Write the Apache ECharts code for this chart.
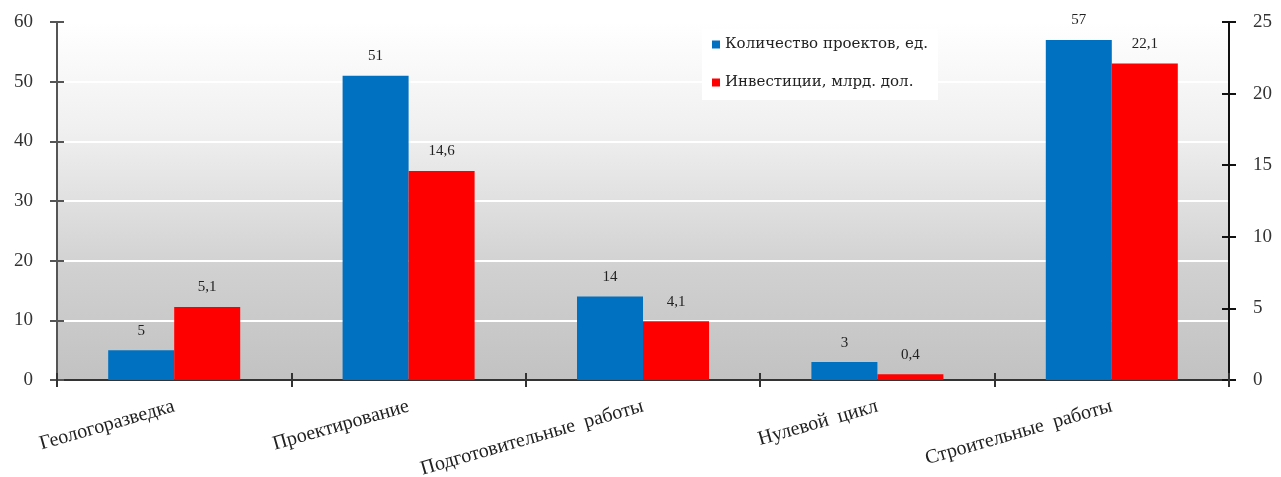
<!DOCTYPE html>
<html>
<head>
<meta charset="utf-8">
<script src="https://cdn.jsdelivr.net/npm/echarts@6/dist/echarts.min.js"></script>
<style>
  html, body { margin: 0; padding: 0; background: #ffffff; }
  #chart { width: 1281px; height: 477px; }
</style>
</head>
<body>
<div id="chart"></div>
<script>
// Project stages
const categories = ['Геологоразведка', 'Проектирование', 'Подготовительные  работы', 'Нулевой  цикл', 'Строительные  работы'];
// Number of projects, units (left axis)
const projects = [5, 51, 14, 3, 57];
// Investment, bln. dollars (right axis)
const investments = [5.1, 14.6, 4.1, 0.4, 22.1];
const seriesNames = ['Количество проектов, ед.', 'Инвестиции, млрд. дол.'];
const leftTicks = { min: 0, max: 60, interval: 10 };
const rightTicks = { min: 0, max: 25, interval: 5 };

const serif = '"Liberation Serif", "Times New Roman", serif';
const wideSerif = '"DejaVu Serif", "Liberation Serif", serif';
const chart = echarts.init(document.getElementById('chart'));

const commaFmt = p => String(p.value).replace('.', ',');

chart.setOption({
  animation: false,
  textStyle: { fontFamily: serif },
  grid: {
    left: 57, right: 52, top: 22, bottom: 97,
    containLabel: false,
    outerBoundsMode: 'none',
    show: true,
    borderWidth: 0,
    backgroundColor: new echarts.graphic.LinearGradient(0, 0, 0, 1, [
      { offset: 0, color: '#ffffff' },
      { offset: 0.3, color: '#f0f0f0' },
      { offset: 0.7, color: '#d0d0d0' },
      { offset: 1, color: '#c2c2c2' }
    ])
  },
  legend: {
    orient: 'vertical',
    left: 702, top: 29,
    padding: [8, 10, 10, 10],
    backgroundColor: '#ffffff',
    itemWidth: 8, itemHeight: 8,
    itemGap: 23,
    icon: 'rect',
    textStyle: { fontFamily: wideSerif, fontSize: 15, color: '#222' },
    data: seriesNames
  },
  xAxis: [
    {
      type: 'category',
      data: categories,
      axisLine: { lineStyle: { color: '#333', width: 2 } },
      axisTick: { show: true, length: 7, lineStyle: { color: '#333', width: 2 } },
      axisLabel: { rotate: 16, margin: 26, fontFamily: serif, fontSize: 20, color: '#222', interval: 0 }
    },
    {
      type: 'category',
      data: categories,
      position: 'bottom',
      axisLine: { show: false },
      axisTick: { show: true, inside: true, length: 7, lineStyle: { color: '#333', width: 2 } },
      axisLabel: { show: false }
    }
  ],
  yAxis: [
    {
      type: 'value', position: 'left',
      min: leftTicks.min, max: leftTicks.max, interval: leftTicks.interval,
      axisLine: { show: true, lineStyle: { color: '#555', width: 2 } },
      axisTick: { show: true, length: 7, lineStyle: { color: '#555', width: 2 } },
      axisLabel: { margin: 24, fontFamily: serif, fontSize: 19, color: '#333' },
      splitLine: { show: true, lineStyle: { color: '#ffffff', width: 2 } }
    },
    {
      type: 'value', position: 'right',
      min: rightTicks.min, max: rightTicks.max, interval: rightTicks.interval,
      axisLine: { show: true, lineStyle: { color: '#111', width: 2 } },
      axisTick: { show: true, length: 7, lineStyle: { color: '#111', width: 2 } },
      axisLabel: { margin: 24, fontFamily: serif, fontSize: 19, color: '#333' },
      splitLine: { show: false }
    },
    {
      type: 'value', position: 'left',
      min: leftTicks.min, max: leftTicks.max, interval: leftTicks.interval,
      axisLine: { show: false },
      axisTick: { show: true, inside: true, length: 7, lineStyle: { color: '#555', width: 2 } },
      axisLabel: { show: false },
      splitLine: { show: false }
    },
    {
      type: 'value', position: 'right',
      min: rightTicks.min, max: rightTicks.max, interval: rightTicks.interval,
      axisLine: { show: false },
      axisTick: { show: true, inside: true, length: 7, lineStyle: { color: '#111', width: 2 } },
      axisLabel: { show: false },
      splitLine: { show: false }
    }
  ],
  series: [
    {
      name: seriesNames[0],
      type: 'bar',
      xAxisIndex: 0, yAxisIndex: 0,
      data: projects,
      barWidth: 66,
      barGap: '0%',
      itemStyle: { color: '#0070c0' },
      label: { show: true, position: 'top', distance: 12, formatter: commaFmt, fontFamily: serif, fontSize: 15, color: '#222' }
    },
    {
      name: seriesNames[1],
      type: 'bar',
      xAxisIndex: 0, yAxisIndex: 1,
      data: investments,
      barWidth: 66,
      barGap: '0%',
      itemStyle: { color: '#ff0000' },
      label: { show: true, position: 'top', distance: 12, formatter: commaFmt, fontFamily: serif, fontSize: 15, color: '#222' }
    }
  ]
});
</script>
</body>
</html>
